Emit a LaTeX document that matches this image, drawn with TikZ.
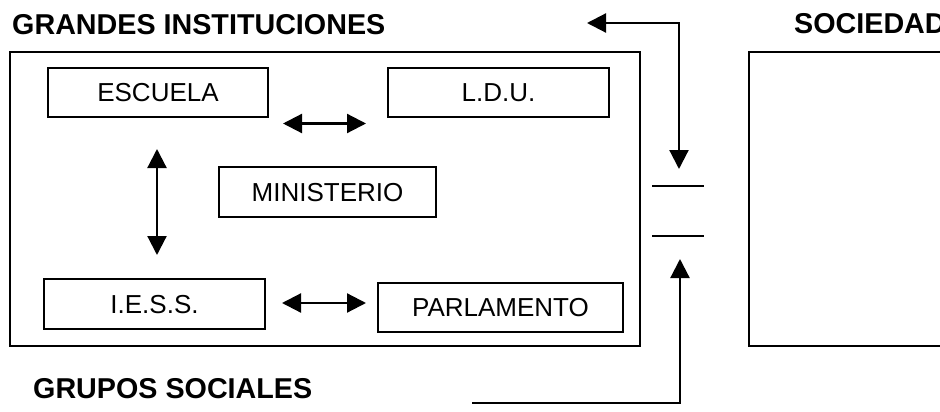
\documentclass[tikz,border=0pt]{standalone}
\usepackage{fontspec}
\setmainfont{Liberation Sans}
\usetikzlibrary{arrows.meta}
\tikzset{
  lbox/.style={draw, line width=1.6pt, inner sep=0pt, font=\fontsize{26}{30}\selectfont, text height=18.6pt, text depth=0pt, align=center},
  title/.style={anchor=base west, inner sep=0pt, font=\fontsize{28.7}{32}\selectfont\bfseries},
  frame/.style={draw, line width=1.6pt},
  conn/.style={line width=2.2pt, {Triangle[length=19pt,width=19pt]}-{Triangle[length=19pt,width=19pt]}},
  conn1/.style={line width=2.2pt, -{Triangle[length=19pt,width=19pt]}},
  bar/.style={line width=1.4pt}
}
\begin{document}
\begin{tikzpicture}[x=1pt,y=-1pt]
\useasboundingbox (0,0) rectangle (940,412);
\clip (0,0) rectangle (940,412);
% frames
\draw[frame] (10,52) rectangle (640,346);
\draw[frame] (749,52) rectangle (980,346);
% titles
\node[title] (tgi) at (12,35) {GRANDES INSTITUCIONES};
\node[title] (tsoc) at (794,34) {SOCIEDAD};
\node[title] (tgs) at (33,398) {GRUPOS SOCIALES};
% boxes
\node[lbox, minimum width=220pt, minimum height=49pt] (escuela) at (158,92.5) {ESCUELA};
\node[lbox, minimum width=221pt, minimum height=49pt] (ldu) at (498.5,92.5) {L.D.U.};
\node[lbox, minimum width=217pt, minimum height=50pt] (min) at (327.5,192) {MINISTERIO};
\node[lbox, minimum width=221pt, minimum height=50pt] (iess) at (154.5,304) {I.E.S.S.};
\node[lbox, minimum width=245pt, minimum height=49pt] (parl) at (500.5,307.5) {PARLAMENTO};
% arrow end points
\coordinate (a1) at (283,123.5);
\coordinate (a2) at (366,123.5);
\coordinate (b1) at (157,149);
\coordinate (b2) at (157,255);
\coordinate (c1) at (282,303);
\coordinate (c2) at (366,303);
\coordinate (d1) at (587,23);
\coordinate (d2) at (679,23);
\coordinate (d3) at (679,169);
\coordinate (e1) at (472,403);
\coordinate (e2) at (680,403);
\coordinate (e3) at (680,259);
\coordinate (f1) at (652,186);
\coordinate (f2) at (704,186);
\coordinate (g1) at (652,236);
\coordinate (g2) at (704,236);
% connectors
\draw[conn] (a1) -- (a2);
\draw[conn] (b1) -- (b2);
\draw[conn] (c1) -- (c2);
\draw[conn] (d1) -- (d2) -- (d3);
\draw[conn1] (e1) -- (e2) -- (e3);
\draw[bar] (f1) -- (f2);
\draw[bar] (g1) -- (g2);
\end{tikzpicture}
\end{document}
